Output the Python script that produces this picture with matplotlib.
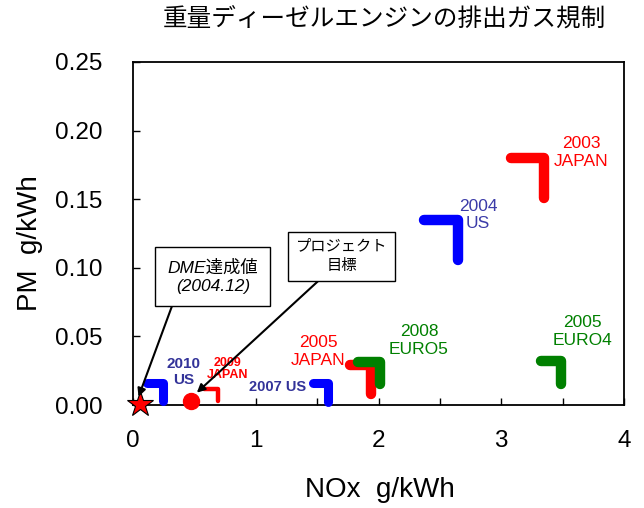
import matplotlib
matplotlib.use('Agg')
import matplotlib.pyplot as plt
from matplotlib.ticker import MultipleLocator, FormatStrFormatter

plt.rcParams['font.family'] = ['Liberation Sans', 'Noto Sans CJK JP', 'DejaVu Sans']

title = '重量ディーゼルエンジンの排出ガス規制'
xlabel = 'NOx  g/kWh'
ylabel = 'PM  g/kWh'

# Regulations: corner (NOx limit, PM limit) drawn as an L-shape
reg_labels = ['2003\nJAPAN', '2004\nUS', '2005\nJAPAN', '2008\nEURO5',
              '2005\nEURO4', '2007 US', '2010\nUS', '2009\nJAPAN']
reg_nox = [3.35, 2.65, 1.94, 2.01, 3.49, 1.59, 0.245, 0.69]
reg_pm = [0.180, 0.135, 0.029, 0.0316, 0.032, 0.016, 0.016, 0.0117]
reg_nox_start = [3.08, 2.37, 1.77, 1.83, 3.32, 1.47, 0.11, 0.58]
reg_pm_end = [0.151, 0.106, 0.008, 0.015, 0.015, 0.002, 0.003, 0.003]
reg_colors = ['#ff0000', '#0000ff', '#ff0000', '#008000',
              '#008000', '#0000ff', '#0000ff', '#ff0000']
reg_lw = [7.5, 7.5, 7.5, 7.5, 7.5, 6.5, 6.5, 3.2]

# label positions / styles
lab_x = [3.65, 2.81, 1.51, 2.33, 3.66, 1.18, 0.41, 0.77]
lab_y = [0.184, 0.1385, 0.039, 0.047, 0.0535, 0.013, 0.024, 0.026]
lab_colors = ['#ff0000', '#3b3ba8', '#ff0000', '#008000',
              '#008000', '#333399', '#333399', '#ff0000']
lab_size = [12.5, 12.5, 12.5, 12.5, 12.5, 10.5, 11, 9]
lab_weight = ['normal'] * 5 + ['bold'] * 3
lab_ls = [1.2, 1.2, 1.2, 1.2, 1.2, 1.2, 1.15, 1.0]

# achieved values
dme_nox, dme_pm = 0.06, 0.001
target_nox, target_pm = 0.47, 0.003

fig = plt.figure(figsize=(6.44, 5.08), dpi=100)
W, H = 644, 508
left, right, top, bottom = 133, 624, 62, 405
ax = fig.add_axes([left / W, (H - bottom) / H, (right - left) / W, (bottom - top) / H])

for i in range(len(reg_labels)):
    ax.plot([reg_nox_start[i], reg_nox[i], reg_nox[i]],
            [reg_pm[i], reg_pm[i], reg_pm_end[i]],
            color=reg_colors[i], lw=reg_lw[i], solid_capstyle='round',
            solid_joinstyle='round', clip_on=False, zorder=3)
    ax.text(lab_x[i], lab_y[i], reg_labels[i], color=lab_colors[i],
            fontsize=lab_size[i], fontweight=lab_weight[i], ha='center',
            va='center', linespacing=lab_ls[i], zorder=4)

ax.plot([target_nox], [target_pm], marker='o', ms=11.5, color='#ff0000',
        mec='#ff0000', clip_on=False, zorder=5, ls='none')
ax.plot([dme_nox], [dme_pm], marker='*', ms=19, color='#ff0000',
        mec='black', mew=0.8, clip_on=False, zorder=6, ls='none')

ax.annotate('DME達成値\n(2004.12)', xy=(0.045, 0.006), xytext=(0.65, 0.0937),
            ha='center', va='center', fontsize=12.5, fontstyle='italic',
            linespacing=1.3,
            bbox=dict(boxstyle='square,pad=0.7', fc='white', ec='black', lw=1),
            arrowprops=dict(arrowstyle='-|>', color='black', lw=1.5,
                            relpos=(0.1, 0), shrinkA=0, shrinkB=0,
                            mutation_scale=12), zorder=7)
ax.annotate('プロジェクト\n目標', xy=(0.52, 0.009), xytext=(1.70, 0.1085),
            ha='center', va='center', fontsize=11, fontstyle='italic',
            linespacing=1.5,
            bbox=dict(boxstyle='square,pad=0.5', fc='white', ec='black', lw=1),
            arrowprops=dict(arrowstyle='-|>', color='black', lw=1.5,
                            relpos=(0.34, 0), shrinkA=0, shrinkB=0,
                            mutation_scale=12), zorder=7)

ax.set_xlim(0, 4)
ax.set_ylim(0, 0.25)
ax.xaxis.set_major_locator(MultipleLocator(1))
ax.xaxis.set_minor_locator(MultipleLocator(0.5))
ax.yaxis.set_major_locator(MultipleLocator(0.05))
ax.yaxis.set_major_formatter(FormatStrFormatter('%.2f'))
ax.tick_params(axis='both', which='both', direction='in', length=5, width=1,
               top=False, right=False)
ax.tick_params(axis='x', which='major', labelsize=17.5, pad=18)
ax.tick_params(axis='y', which='major', labelsize=17.5, pad=22)
for s in ax.spines.values():
    s.set_linewidth(1.3)

fig.text(30 / W, 1 - 243 / H, ylabel, rotation=90, ha='center', va='center', fontsize=20)
fig.text(380 / W, 1 - 490 / H, xlabel, ha='center', va='center', fontsize=20)
fig.text(384 / W, 1 - 20 / H, title, ha='center', va='center', fontsize=17.7,
         family=['Noto Sans CJK JP'])

fig.savefig('out.png', dpi=100)
